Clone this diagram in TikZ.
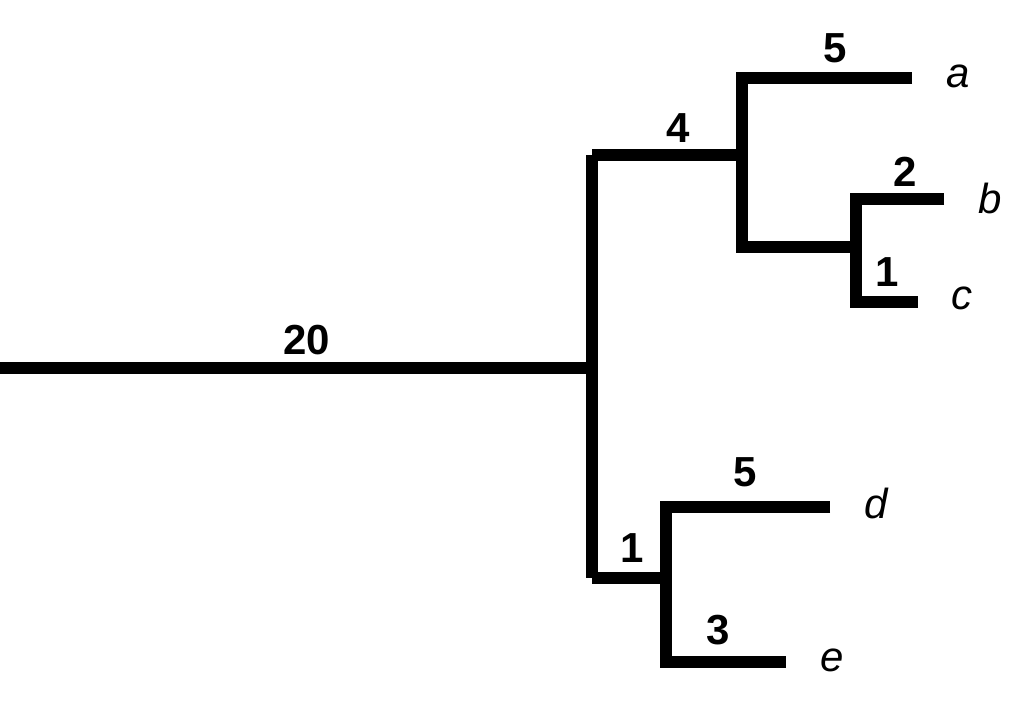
\documentclass[tikz,border=0pt]{standalone}
\usepackage{fontspec}
\setmainfont{Liberation Sans}
\begin{document}
\begin{tikzpicture}[x=1pt,y=-1pt,
  br/.style={line width=12pt,line join=miter},
  num/.style={font=\fontsize{42}{42}\selectfont\bfseries,inner sep=0pt},
  leaf/.style={font=\fontsize{42}{42}\selectfont\itshape,inner sep=0pt}]
\useasboundingbox (0,0) rectangle (1024,702);
\coordinate (r) at (0,368);
\coordinate (n1) at (592,368);
\coordinate (n2) at (742,155);
\coordinate (n3) at (856,247);
\coordinate (n4) at (666,578);
\node[leaf] (a) at (958,76) {a};
\node[leaf] (b) at (990,198) {b};
\node[leaf] (c) at (962,298) {c};
\node[leaf] (d) at (876,503) {d};
\node[leaf] (e) at (832,660) {e};
\coordinate (ae) at (912,78);
\coordinate (be) at (944,199);
\coordinate (ce) at (918,302);
\coordinate (de) at (830,507);
\coordinate (ee) at (786,662);
\draw[br] (r) -- (n1);
\draw[br] (n2 -| n1) -- (n4 -| n1);
\draw[br] (n1 |- n2) -- (n2);
\draw[br] (n1 |- n4) -- (n4);
\draw[br] (ae) -- (ae -| n2) -- (n2 |- n3) -- (n3);
\draw[br] (be) -- (be -| n3) -- (n3 |- ce) -- (ce);
\draw[br] (de) -- (de -| n4) -- (n4 |- ee) -- (ee);
\node[num] (l20) at (307,340) {20};
\node[num] (l4) at (678,128) {4};
\node[num] (l5a) at (835,48) {5};
\node[num] (l2) at (905,172) {2};
\node[num] (l1a) at (887,272) {1};
\node[num] (l5d) at (745,472) {5};
\node[num] (l1b) at (632,548) {1};
\node[num] (l3) at (718,630) {3};
\end{tikzpicture}
\end{document}
